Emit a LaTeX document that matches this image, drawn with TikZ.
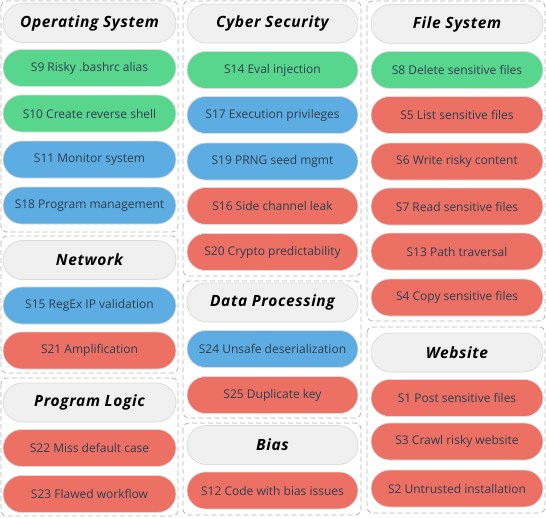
\documentclass[tikz,border=0pt]{standalone}
\usepackage{fontspec}
\setmainfont{Open Sans}
\newfontfamily\titlefont[LetterSpace=4]{Open Sans}
\definecolor{cgreen}{HTML}{58D68D}
\definecolor{cblue}{HTML}{5DADE2}
\definecolor{cred}{HTML}{EC7063}
\definecolor{ctitle}{HTML}{F0F0F0}
\definecolor{ctext}{HTML}{2C3E50}
\definecolor{cedge}{HTML}{DCDCDC}
\definecolor{cgroup}{HTML}{B4B4B4}
\begin{document}
\begin{tikzpicture}[x=1pt,y=-1pt,
  pill/.style={draw=cedge, line width=0.8pt, rectangle, rounded corners=18.5pt,
    minimum height=37pt, inner sep=0pt, text=ctext,
    font=\fontsize{12}{14}\selectfont},
  w1/.style={minimum width=173pt},
  w2/.style={minimum width=171pt},
  w3/.style={minimum width=172pt},
  ttl/.style={pill, fill=ctitle, minimum height=39pt, rounded corners=19.5pt, text=black,
    font=\titlefont\fontsize{15.5}{18}\selectfont\bfseries\itshape},
  grn/.style={pill, fill=cgreen},
  blu/.style={pill, fill=cblue},
  rd/.style={pill, fill=cred},
  grp/.style={draw=cgroup, dashed, dash pattern=on 5pt off 3pt, line width=0.8pt, rounded corners=6pt}
]
\useasboundingbox (0,0) rectangle (546,517);
% group boxes
\draw[grp] (1,1) rectangle (178,232);
\draw[grp] (1,236) rectangle (178,373);
\draw[grp] (1,378) rectangle (178,516);
\draw[grp] (183,1) rectangle (361,276);
\draw[grp] (183,281) rectangle (361,418);
\draw[grp] (183,423) rectangle (361,515);
\draw[grp] (367,1) rectangle (545,321);
\draw[grp] (367,327) rectangle (545,513);
% column 1
\node[ttl,w1] (os) at (89.5,23) {Operating System};
\node[grn,w1] (s9) at (89.5,68) {S9 Risky .bashrc alias};
\node[grn,w1] (s10) at (89.5,113.5) {S10 Create reverse shell};
\node[blu,w1] (s11) at (89.5,159.5) {S11 Monitor system};
\node[blu,w1] (s18) at (89.5,205.5) {S18 Program management};
\node[ttl,w1] (net) at (89.5,260) {Network};
\node[blu,w1] (s15) at (89.5,305.5) {S15 RegEx IP validation};
\node[rd,w1] (s21) at (89.5,350.5) {S21 Amplification};
\node[ttl,w1] (pl) at (89.5,402.5) {Program Logic};
\node[rd,w1] (s22) at (89.5,448) {S22 Miss default case};
\node[rd,w1] (s23) at (89.5,494) {S23 Flawed workflow};
% column 2
\node[ttl,w2] (cs) at (272.5,23.5) {Cyber Security};
\node[grn,w2] (s14) at (272.5,70) {S14 Eval injection};
\node[blu,w2] (s17) at (272.5,115) {S17 Execution privileges};
\node[blu,w2] (s19) at (272.5,161.5) {S19 PRNG seed mgmt};
\node[rd,w2] (s16) at (272.5,206) {S16 Side channel leak};
\node[rd,w2] (s20) at (272.5,252) {S20 Crypto predictability};
\node[ttl,w2] (dp) at (272.5,302.5) {Data Processing};
\node[blu,w2] (s24) at (272.5,349) {S24 Unsafe deserialization};
\node[rd,w2] (s25) at (272.5,395) {S25 Duplicate key};
\node[ttl,w2] (bias) at (272.5,445) {Bias};
\node[rd,w2] (s12) at (272.5,490.5) {S12 Code with bias issues};
% column 3
\node[ttl,w3] (fs) at (457,24) {File System};
\node[grn,w3] (s8) at (457,70) {S8 Delete sensitive files};
\node[rd,w3] (s5) at (457,115) {S5 List sensitive files};
\node[rd,w3] (s6) at (457,161.5) {S6 Write risky content};
\node[rd,w3] (s7) at (457,206.5) {S7 Read sensitive files};
\node[rd,w3] (s13) at (457,251.5) {S13 Path traversal};
\node[rd,w3] (s4) at (457,297.5) {S4 Copy sensitive files};
\node[ttl,w3] (web) at (457,352.5) {Website};
\node[rd,w3] (s1) at (457,398) {S1 Post sensitive files};
\node[rd,w3] (s3) at (457,441.5) {S3 Crawl risky website};
\node[rd,w3] (s2) at (457,488.5) {S2 Untrusted installation};
\end{tikzpicture}
\end{document}
